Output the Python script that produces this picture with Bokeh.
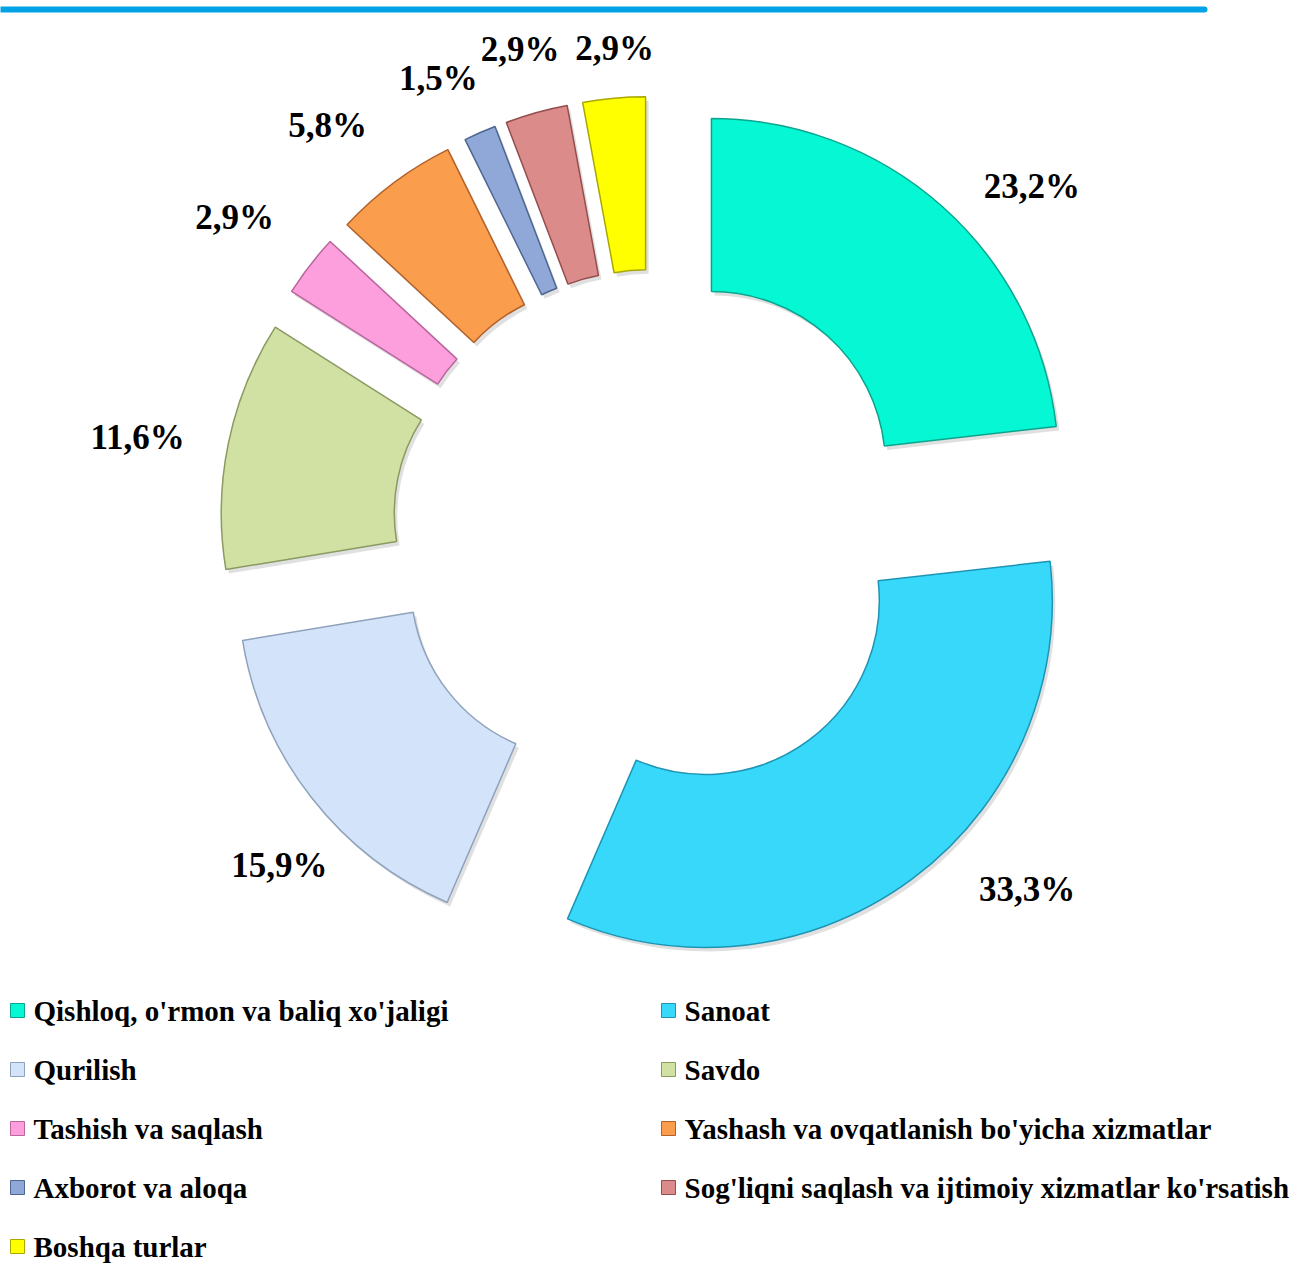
import math
from bokeh.plotting import figure
from bokeh.models import Range1d, ColumnDataSource
from bokeh.core.properties import value
from bokeh.embed import file_html
from bokeh.resources import INLINE

# ---------------- data ----------------
categories = [
    "Qishloq, o'rmon va baliq xo'jaligi",
    "Sanoat",
    "Qurilish",
    "Savdo",
    "Tashish va saqlash",
    "Yashash va ovqatlanish bo'yicha xizmatlar",
    "Axborot va aloqa",
    "Sog'liqni saqlash va ijtimoiy xizmatlar ko'rsatish",
    "Boshqa turlar",
]
shares = [23.2, 33.3, 15.9, 11.6, 2.9, 5.8, 1.5, 2.9, 2.9]
labels = ["23,2%", "33,3%", "15,9%", "11,6%", "2,9%", "5,8%", "1,5%", "2,9%", "2,9%"]

# ---------------- style / layout ----------------
colors = ["#05F7D4", "#38D8FA", "#D3E4FA", "#D1E1A3", "#FC9FDC",
          "#FA9D4C", "#8FA8D8", "#DC8B8B", "#FFFF00"]
edges = ["#0AA58E", "#1E94B4", "#8FA2BC", "#8A9A60", "#B9669E",
         "#B2612A", "#4E6690", "#944E4E", "#A8A800"]

W, H = 1299, 1264
CX, CY = 653.0, -530.0          # pie centre (page px, y downwards negated)
R_OUT, R_IN = 347.0, 174.0
EXPLODE = 87.0
LABEL_R = 505.0
# small layout nudges for the data labels (page px, x right / y down)
label_nudge = [(42, 33), (73, -47), (24, 24), (-21, 8), (-19, -5),
               (-24, 0), (-13, 11), (3, 5), (7, 21)]

p = figure(width=W, height=H, output_backend="svg", toolbar_location=None,
           x_range=Range1d(0, W), y_range=Range1d(-H, 0),
           min_border=0, outline_line_color=None)
p.axis.visible = False
p.grid.visible = False
p.background_fill_color = "white"
p.border_fill_color = "white"

# top decorative rule
p.segment(x0=[0], y0=[-9], x1=[1204], y1=[-9], line_color="#02A2E6",
          line_width=6, line_cap="round")

total = sum(shares)
xs, ys, sa, ea, bis = [], [], [], [], []
cum = 0.0
for s in shares:
    a_start = math.radians(90 - (cum + s) / total * 360)
    a_end = math.radians(90 - cum / total * 360)
    b = (a_start + a_end) / 2
    cum += s
    xs.append(CX + EXPLODE * math.cos(b))
    ys.append(CY + EXPLODE * math.sin(b))
    sa.append(a_start)
    ea.append(a_end)
    bis.append(b)

src = ColumnDataSource(dict(x=xs, y=ys, sa=sa, ea=ea, color=colors, edge=edges,
                            sx=[x + 3 for x in xs], sy=[y - 4 for y in ys]))

# soft shadow
p.annular_wedge(x="sx", y="sy", inner_radius=R_IN, outer_radius=R_OUT,
                start_angle="sa", end_angle="ea", source=src,
                fill_color="#000000", fill_alpha=0.12, line_color=None)
# slices
p.annular_wedge(x="x", y="y", inner_radius=R_IN, outer_radius=R_OUT,
                start_angle="sa", end_angle="ea", source=src,
                fill_color="color", line_color="edge", line_width=1.5)
# bevel highlight
p.annular_wedge(x="x", y="y", inner_radius=R_IN + 5, outer_radius=R_OUT - 5,
                start_angle=[a + 5 / R_IN for a in sa], end_angle=[a - 5 / R_IN for a in ea],
                fill_color=None, line_color="white", line_alpha=0.35, line_width=3)

# data labels
lx, ly = [], []
for b, (dx, dy) in zip(bis, label_nudge):
    lx.append(CX + LABEL_R * math.cos(b) + dx)
    ly.append(CY + LABEL_R * math.sin(b) - dy)
p.text(x=lx, y=ly, text=labels, text_font=value("Liberation Serif"),
       text_font_style="bold", text_font_size="35px", text_color="black",
       text_align="center", text_baseline="middle")

# legend (two columns, row-major)
col_x = [10, 661]
row_y0, row_dy = 1010, 59
mx, my, tx, ty = [], [], [], []
for i in range(len(categories)):
    r, c = divmod(i, 2)
    yy = -(row_y0 + r * row_dy)
    mx.append(col_x[c] + 7)
    my.append(yy)
    tx.append(col_x[c] + 23)
    ty.append(yy)
p.rect(x=mx, y=my, width=14, height=14, fill_color=colors, line_color=edges, line_width=1)
p.text(x=tx, y=ty, text=categories, text_font=value("Liberation Serif"),
       text_font_style="bold", text_font_size="29px", text_color="black",
       text_align="left", text_baseline="middle")

open("out.html", "w").write(file_html(p, INLINE))
